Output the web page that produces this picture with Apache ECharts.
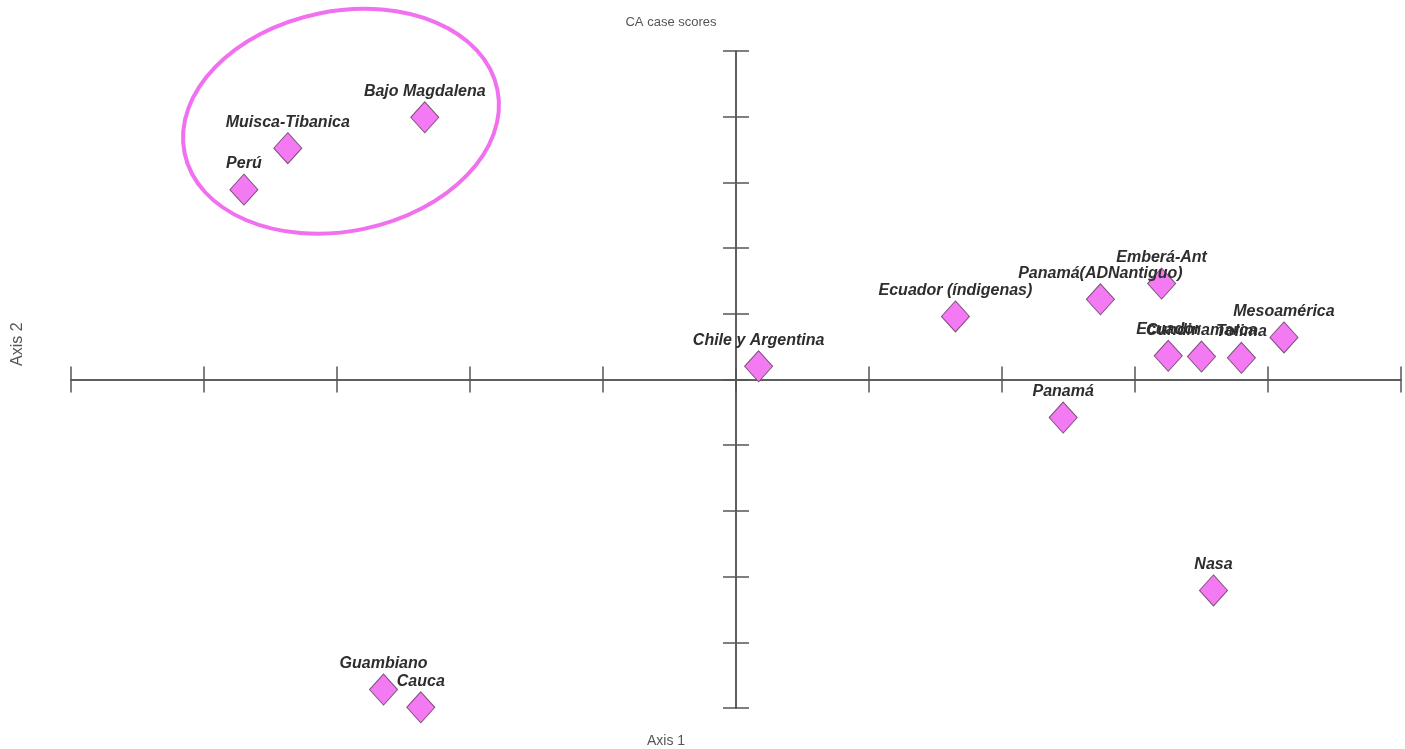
<!DOCTYPE html>
<html>
<head>
<meta charset="utf-8">
<script src="https://cdn.jsdelivr.net/npm/echarts@6/dist/echarts.min.js"></script>
<style>
  html, body { margin: 0; padding: 0; background: #ffffff; }
  #chart { width: 1405px; height: 749px; }
</style>
</head>
<body>
<div id="chart"></div>
<script>
// Correspondence analysis case scores (Axis 1 / Axis 2)
const sampleNames = [
  'Bajo Magdalena', 'Muisca-Tibanica', 'Perú', 'Guambiano', 'Cauca',
  'Chile y Argentina', 'Ecuador (índigenas)', 'Panamá(ADNantiguo)', 'Emberá-Ant',
  'Ecuador', 'Cundinamarca', 'Tolima', 'Mesoamérica', 'Panamá', 'Nasa'
];
const axis1Scores = [
  -2.34, -3.37, -3.70, -2.65, -2.37,
  0.17, 1.65, 2.74, 3.20,
  3.25, 3.50, 3.80, 4.12, 2.46, 3.59
];
const axis2Scores = [
  3.99, 3.52, 2.89, -4.72, -4.99,
  0.20, 0.96, 1.22, 1.46,
  0.36, 0.35, 0.33, 0.64, -0.58, -3.21
];
// Highlighted cluster, in axis units: centre, semi-axes, tilt (radians)
const clusterCentre = [-2.97, 3.93];
const clusterRadii = [1.2, 1.675];
const clusterTilt = 0.2;

const fontFamily = 'Liberation Sans, Arial, sans-serif';
const axisColor = '#555555';
const labelFont = { fontFamily: fontFamily, fontStyle: 'italic', fontWeight: 'bold', fontSize: 16, color: '#2e2e2e' };

// Each axis is drawn twice (ticks outward + ticks inward) so the ticks cross the line
function makeAxis(position, inside) {
  return {
    type: 'value', min: -5, max: 5, interval: 1, position: position,
    axisLine: { show: true, onZero: true, onZeroAxisIndex: 0, lineStyle: { color: axisColor, width: 1.5 } },
    axisTick: { show: true, inside: inside, length: 13, lineStyle: { color: axisColor, width: 1.5 } },
    axisLabel: { show: false },
    splitLine: { show: false }
  };
}

const chart = echarts.init(document.getElementById('chart'), null, { renderer: 'canvas' });
chart.setOption({
  animation: false,
  backgroundColor: '#ffffff',
  title: {
    text: 'CA case scores', left: 666, top: 11, textAlign: 'center',
    textStyle: { fontFamily: fontFamily, fontSize: 13, fontWeight: 'normal', color: '#555555' }
  },
  grid: { left: 71, right: 4, top: 51, bottom: 41, containLabel: false },
  xAxis: [makeAxis('bottom', false), makeAxis('bottom', true)],
  yAxis: [makeAxis('left', false), makeAxis('left', true)],
  series: [{
    type: 'scatter',
    xAxisIndex: 0, yAxisIndex: 0,
    symbol: 'diamond',
    symbolSize: [28, 31],
    itemStyle: { color: '#f47af4', borderColor: '#7e507a', borderWidth: 1, opacity: 1 },
    label: {
      show: true, position: 'top', distance: 2,
      formatter: p => p.data[2],
      ...labelFont
    },
    data: sampleNames.map((n, i) => [axis1Scores[i], axis2Scores[i], n])
  }]
});

// Axis names plus an ellipse outlining the upper-left cluster, placed through the axis scales
const c = chart.convertToPixel({ gridIndex: 0 }, clusterCentre);
const ex = chart.convertToPixel({ gridIndex: 0 }, [clusterCentre[0] + clusterRadii[0], clusterCentre[1]]);
const ey = chart.convertToPixel({ gridIndex: 0 }, [clusterCentre[0], clusterCentre[1] + clusterRadii[1]]);
chart.setOption({
  graphic: [
    { id: 'axis1Name', type: 'text', left: 647, top: 734, style: { text: 'Axis 1', fontFamily: fontFamily, fontSize: 14, fill: '#555555' } },
    { id: 'axis2Name', type: 'text', x: 10, y: 366, rotation: Math.PI / 2, style: { text: 'Axis 2', fontFamily: fontFamily, fontSize: 16, fill: '#555555' } },
    {
      id: 'cluster', type: 'ellipse',
      x: c[0], y: c[1],
      rotation: clusterTilt,
      shape: { cx: 0, cy: 0, rx: Math.abs(ex[0] - c[0]), ry: Math.abs(c[1] - ey[1]) },
      style: { fill: 'none', stroke: '#f070f0', lineWidth: 4 },
      z: 10
    }
  ]
});
</script>
</body>
</html>
